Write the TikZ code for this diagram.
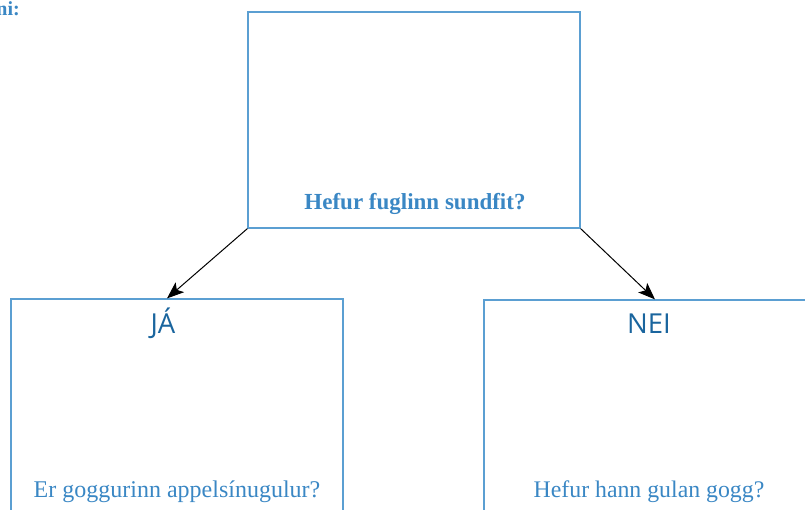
\documentclass[tikz,border=0pt]{standalone}
\usepackage{fontspec}
\setmainfont{Liberation Serif}
\newfontfamily\labsans{Open Sans}
\usetikzlibrary{arrows.meta,calc}
\definecolor{boxblue}{HTML}{5B9FD2}
\definecolor{txtblue}{HTML}{3A87C4}
\definecolor{darkblue}{HTML}{1A659E}
\begin{document}
\begin{tikzpicture}[x=1pt,y=-1pt,
  box/.style={draw=boxblue, line width=1.2pt, inner sep=0pt},
  qtext/.style={anchor=base, text=txtblue, inner sep=0pt},
  anstext/.style={anchor=base, text=darkblue, inner sep=0pt, font=\labsans\fontsize{27.5}{32}\selectfont},
  conn/.style={draw=black, line width=1pt, -{Stealth[length=17pt,width=13pt,inset=4pt]}}]
\useasboundingbox (0,0) rectangle (805,509);
\clip (0,0) rectangle (805,509);
\node[box, minimum width=332pt, minimum height=216pt] (q) at (414,120) {};
\node[box, minimum width=332pt, minimum height=241pt] (ja) at (177,419.5) {};
\node[box, minimum width=330pt, minimum height=240pt] (nei) at (649,420) {};
\node[qtext, font=\bfseries\fontsize{23}{27}\selectfont] (qt) at (415,209) {Hefur fuglinn sundfit?};
\node[anstext] (jat) at (163,333) {JÁ};
\node[anstext] (neit) at (649,333) {NEI};
\node[qtext, font=\fontsize{24}{28}\selectfont] (jaq) at (177,497) {Er goggurinn appelsínugulur?};
\node[qtext, font=\fontsize{23.8}{28}\selectfont] (neiq) at (649,497) {Hefur hann gulan gogg?};
\node[anchor=base east, inner sep=0pt, text=txtblue, font=\bfseries\fontsize{20}{24}\selectfont] (cut) at (20,15) {ni:};
\draw[conn] (q.south west) -- ($(ja.north)+(-10,0)$);
\draw[conn] (q.south east) -- ($(nei.north)+(6,0)$);
\end{tikzpicture}
\end{document}
